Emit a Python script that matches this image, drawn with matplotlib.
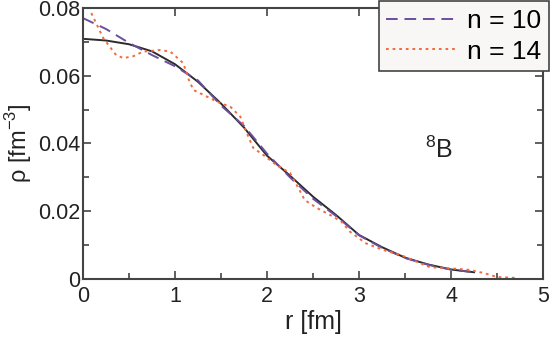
import numpy as np
import matplotlib
matplotlib.use("Agg")
import matplotlib.pyplot as plt
from matplotlib.ticker import MultipleLocator

plt.rcParams['font.family'] = ['Liberation Sans', 'DejaVu Sans']
plt.rcParams['mathtext.fontset'] = 'custom'
plt.rcParams['mathtext.rm'] = 'Liberation Sans'

# density, solid curve
r_ref = [0, 0.25, 0.5, 0.75, 1.0, 1.25, 1.5, 1.75, 2.0, 2.25, 2.5, 2.75,
         3.0, 3.25, 3.5, 3.75, 4.0, 4.25]
rho_ref = [0.0709, 0.0704, 0.0693, 0.0672, 0.0634, 0.0582, 0.0518, 0.0447,
           0.0364, 0.0305, 0.0243, 0.0189, 0.0130, 0.0094, 0.0063, 0.0043,
           0.0028, 0.0020]

# n = 10
r_n10 = [0, 0.25, 0.5, 0.75, 1.0, 1.25, 1.5, 1.75, 2.0, 2.25, 2.5, 2.75,
         3.0, 3.25, 3.5, 3.75, 4.0, 4.25]
rho_n10 = [0.0770, 0.0738, 0.0697, 0.0661, 0.0628, 0.0586, 0.0512, 0.0452,
           0.0370, 0.0300, 0.0237, 0.0186, 0.0129, 0.0092, 0.0062, 0.0042,
           0.0028, 0.0020]

# n = 14
r_n14 = [0.09, 0.22, 0.36, 0.44, 0.55, 0.65, 0.84, 0.95, 1.09, 1.15, 1.2,
         1.35, 1.49, 1.6, 1.71, 1.78, 1.85, 1.96, 2.1, 2.25, 2.34, 2.41, 2.54,
         2.72, 2.81, 2.9, 3.07, 3.26, 3.45, 3.77, 4.07, 4.2, 4.35, 4.5, 4.72]
rho_n14 = [0.0785, 0.0711, 0.0661, 0.0652, 0.0658, 0.0671, 0.0676, 0.0671,
           0.0637, 0.0588, 0.0558, 0.0538, 0.0519, 0.0509, 0.0479, 0.0431,
           0.0387, 0.0366, 0.0337, 0.0313, 0.0269, 0.0233, 0.0210, 0.0184,
           0.0169, 0.0140, 0.0106, 0.0086, 0.0071, 0.0035, 0.0030, 0.0027,
           0.0018, 0.0006, 0.0003]

x_ticks = [0, 1, 2, 3, 4, 5]
y_ticks = [0, 0.02, 0.04, 0.06, 0.08]
y_labels = ['0', '0.02', '0.04', '0.06', '0.08']

fig = plt.figure(figsize=(5.52, 3.4), dpi=100)
ax = fig.add_axes([0.1504, 0.1794, 0.8333, 0.7971])

ax.plot(r_ref, rho_ref, color='#2b2b2b', lw=1.4)
l10, = ax.plot(r_n10, rho_n10, color='#6a4f9c', lw=1.4, dashes=(6, 3.5),
               label='n = 10')
l14, = ax.plot(r_n14, rho_n14, color='#f26a3c', lw=1.4, dashes=(1.4, 2.0),
               label='n = 14')

ax.set_xlim(0, 5)
ax.set_ylim(0, 0.08)
ax.set_xticks(x_ticks)
ax.set_xticklabels([str(v) for v in x_ticks])
ax.set_yticks(y_ticks)
ax.set_yticklabels(y_labels)
ax.xaxis.set_minor_locator(MultipleLocator(0.5))
ax.yaxis.set_minor_locator(MultipleLocator(0.01))

ax.tick_params(which='both', direction='in', top=True, right=True,
               color='#444444', width=1.2, labelcolor='#222222')
ax.tick_params(which='major', length=6)
ax.tick_params(which='minor', length=4)
ax.tick_params(axis='x', which='minor', top=False)
ax.tick_params(axis='x', pad=5, labelsize=15.5)
ax.tick_params(axis='y', pad=2, labelsize=15.5)
for s in ax.spines.values():
    s.set_color('#444444')
    s.set_linewidth(1.5)

ax.set_xlabel('r [fm]', fontsize=18, color='#222222', labelpad=2)
ax.set_ylabel(r'ρ [fm$^{\mathregular{-3}}$]', fontsize=17, color='#222222',
              labelpad=3)

ax.text(3.72, 0.0357, r'$^{\mathregular{8}}$B', fontsize=18, color='#222222',
        ha='left', va='baseline')

leg = fig.legend(handles=[l10, l14], loc='upper right',
                 bbox_to_anchor=(549 / 552, 1 - 1 / 340), fontsize=19,
                 frameon=True, fancybox=False, handlelength=2.6,
                 handletextpad=0.45, labelspacing=0.25, borderpad=0.3,
                 borderaxespad=0)
leg.get_frame().set_facecolor('#f8f7f5')
leg.get_frame().set_edgecolor('#444444')
leg.get_frame().set_linewidth(1.2)
leg.get_frame().set_alpha(1)

fig.savefig('out.png', dpi=100)
